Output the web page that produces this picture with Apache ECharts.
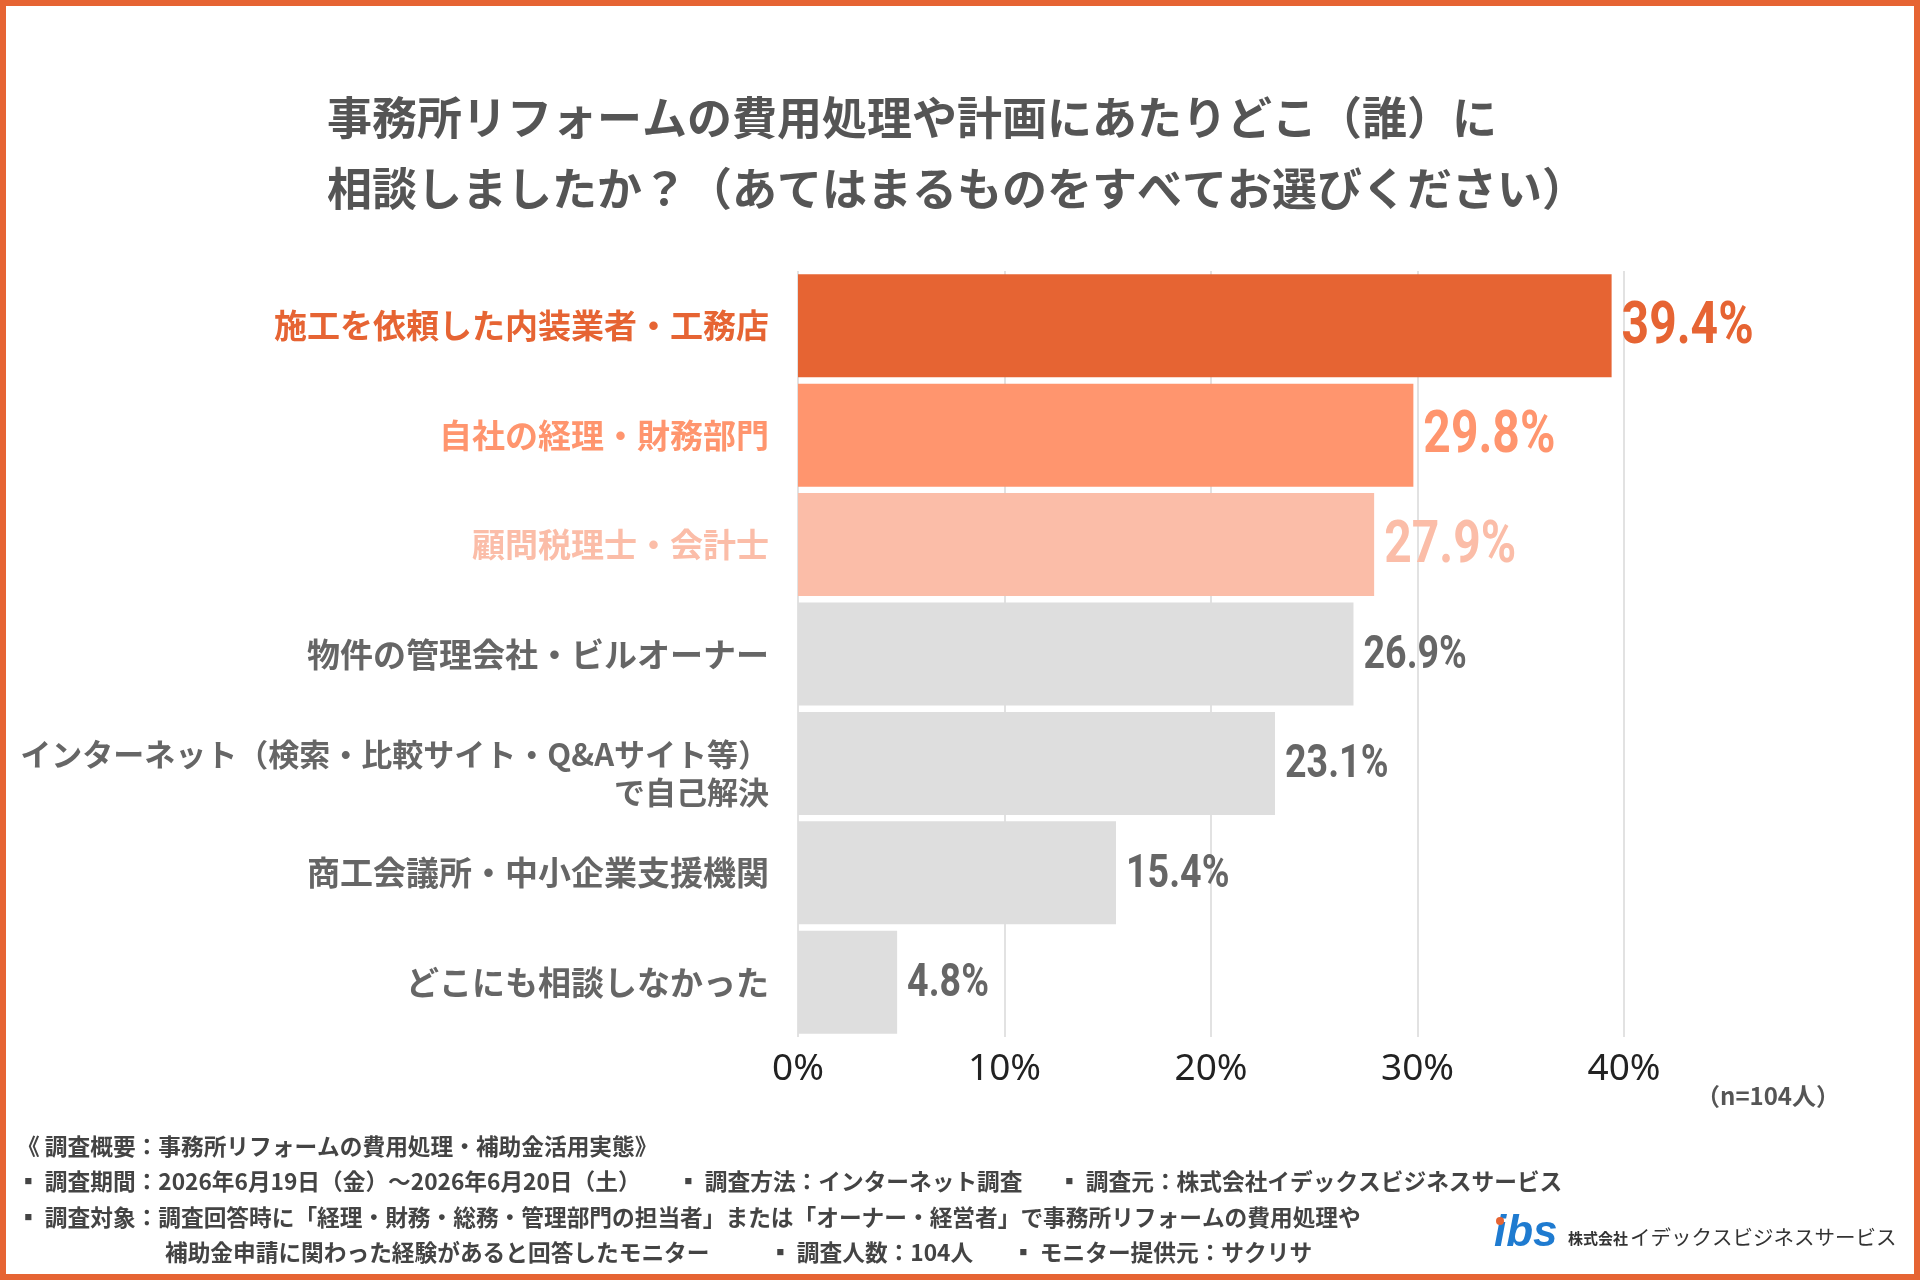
<!DOCTYPE html>
<html>
<head>
<meta charset="utf-8">
<script src="https://cdn.jsdelivr.net/npm/echarts@6/dist/echarts.min.js"></script>
<style>
html,body{margin:0;padding:0;background:#fff;}
#main{width:1920px;height:1280px;}
</style>
</head>
<body>
<div id="main"></div>
<script>
const categories = [
  '施工を依頼した内装業者・工務店',
  '自社の経理・財務部門',
  '顧問税理士・会計士',
  '物件の管理会社・ビルオーナー',
  'インターネット（検索・比較サイト・Q&Aサイト等）\nで自己解決',
  '商工会議所・中小企業支援機関',
  'どこにも相談しなかった'
];
const values = [39.4, 29.8, 27.9, 26.9, 23.1, 15.4, 4.8];
const barColors = ['#E66433', '#FF956E', '#FBBDA8', '#DEDEDE', '#DEDEDE', '#DEDEDE', '#DEDEDE'];
const textColors = ['#E66433', '#FF956E', '#FBBDA8', '#666666', '#666666', '#666666', '#666666'];
const valueFontSizes = [60, 60, 60, 47, 47, 47, 47];
const xTicks = [0, 10, 20, 30, 40];

const titleText = '事務所リフォームの費用処理や計画にあたりどこ（誰）に\n相談しましたか？（あてはまるものをすべてお選びください）';
const footerLines = [
  { x: 17, y: 1149, text: '《 調査概要：事務所リフォームの費用処理・補助金活用実態》' },
  { x: 17, y: 1184, text: '▪ 調査期間：2026年6月19日（金）～2026年6月20日（土）' },
  { x: 677, y: 1184, text: '▪ 調査方法：インターネット調査' },
  { x: 1058, y: 1184, text: '▪ 調査元：株式会社イデックスビジネスサービス' },
  { x: 17, y: 1220, text: '▪ 調査対象：調査回答時に「経理・財務・総務・管理部門の担当者」または「オーナー・経営者」で事務所リフォームの費用処理や' },
  { x: 165, y: 1255, text: '補助金申請に関わった経験があると回答したモニター' },
  { x: 769, y: 1255, text: '▪ 調査人数：104人' },
  { x: 1012, y: 1255, text: '▪ モニター提供元：サクリサ' }
];
const sampleNote = '（n=104人）';

const CJK = "'Noto Sans CJK JP', 'Noto Sans', sans-serif";

const chart = echarts.init(document.getElementById('main'), null, { renderer: 'canvas' });

const footerGraphics = footerLines.map(f => ({
  type: 'text', left: f.x, top: f.y - 14,
  style: { text: f.text, fill: '#444', font: "bold 22.7px " + CJK }
}));

const option = {
  backgroundColor: '#ffffff',
  animation: false,
  title: {
    text: titleText,
    left: 322, top: 77,
    textStyle: { fontFamily: CJK, fontWeight: 'bold', fontSize: 45, lineHeight: 71, color: '#555555' }
  },
  grid: { left: 798, right: 296, top: 271, bottom: 243, containLabel: false, outerBoundsMode: 'none' },
  xAxis: {
    type: 'value', min: 0, max: 40, interval: 10,
    axisLine: { show: false }, axisTick: { show: false },
    splitLine: { show: true, lineStyle: { color: '#E2E2E2', width: 2 } },
    axisLabel: { formatter: '{value}%', fontFamily: "'Noto Sans', sans-serif", fontSize: 37, color: '#222', margin: 14 }
  },
  yAxis: {
    type: 'category', inverse: true,
    data: categories.map((c, i) => ({ value: c, textStyle: { color: textColors[i] } })),
    axisLine: { show: false }, axisTick: { show: false },
    axisLabel: {
      fontFamily: CJK, fontWeight: 'bold', fontSize: 33, lineHeight: 38, margin: 29, color: '#666',
      formatter: function (val) {
        if (val.indexOf('\n') >= 0) {
          const parts = val.split('\n');
          return '{sp| }\n{n|' + parts[0] + '}\n{n|' + parts[1] + '}';
        }
        return val;
      },
      rich: {
        sp: { fontSize: 10, lineHeight: 20 },
        n: { fontFamily: CJK, fontWeight: 'bold', fontSize: 31, lineHeight: 38, color: '#666' }
      }
    }
  },
  series: [{
    type: 'bar', barWidth: 103,
    data: values.map((v, i) => ({ value: v, itemStyle: { color: barColors[i] } }))
  }, {
    type: 'custom',
    data: values.map((v, i) => [v, i]),
    encode: { x: 0, y: 1 },
    z: 5,
    renderItem: function (params, api) {
      const v = api.value(0), idx = api.value(1);
      const pt = api.coord([v, idx]);
      return {
        type: 'text', x: pt[0] + 10, y: pt[1] + 2, scaleX: 0.8,
        style: {
          text: v.toFixed(1) + '%', fill: textColors[idx],
          font: 'bold ' + valueFontSizes[idx] + "px Roboto, 'Noto Sans', sans-serif",
          verticalAlign: 'middle', align: 'left'
        }
      };
    }
  }],
  graphic: [
    { type: 'rect', shape: { x: 3, y: 3, width: 1914, height: 1274 }, style: { fill: 'none', stroke: '#E66433', lineWidth: 6 }, z: 100 },
    { type: 'text', left: 1696, top: 1084, style: { text: sampleNote, fill: '#555', font: "bold 24px " + CJK } },
    ...footerGraphics,
    { type: 'text', left: 1494, top: 1212, style: { text: 'ibs', fill: '#1F7BD0', font: "bold italic 44px 'Liberation Sans', sans-serif" } },
    { type: 'circle', shape: { cx: 1500, cy: 1221, r: 4 }, style: { fill: '#E66433' }, z: 10 },
    { type: 'text', left: 1568, top: 1231, style: { text: '株式会社', fill: '#333', font: "bold 15px " + CJK } },
    { type: 'text', left: 1630, top: 1227, style: { text: 'イデックスビジネスサービス', fill: '#333', font: "20.5px " + CJK } }
  ]
};
chart.setOption(option);
</script>
</body>
</html>
